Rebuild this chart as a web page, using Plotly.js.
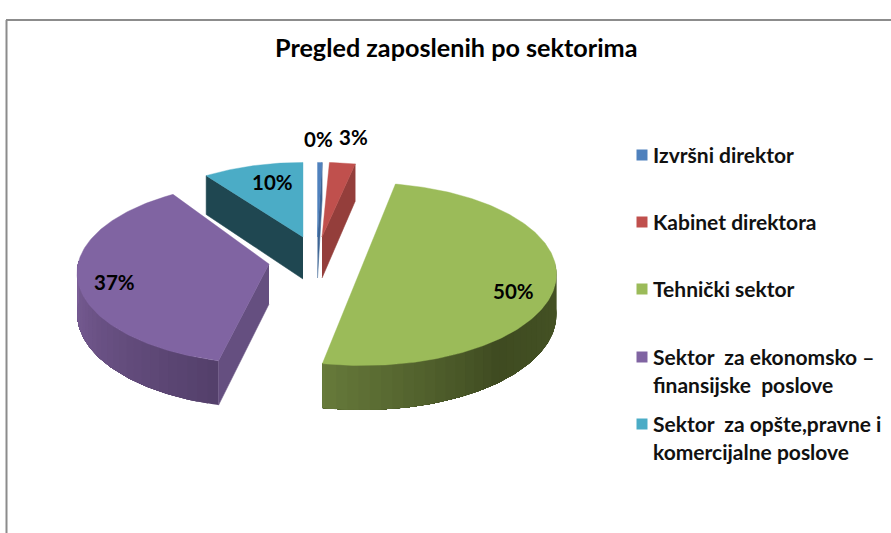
<!DOCTYPE html>
<html><head><meta charset="utf-8">
<script src="https://cdn.plot.ly/plotly-3.0.1.min.js"></script>
<style>html,body{margin:0;padding:0;background:#fff}</style></head>
<body><div id="chart" style="width:891px;height:533px"></div>
<script>
// data
const categories = ["Izvršni direktor","Kabinet direktora","Tehnički sektor","Sektor  za ekonomsko –","Sektor  za opšte,pravne i"];
const legendSecondLines = [null,null,null,"finansijske  poslove","komercijalne poslove"];
const values = [0.45,2.55,50,37,10];
const chartTitle = "Pregled zaposlenih po sektorima";
// styles
const topColors = ["#4f81bd","#c0504d","#9bbb59","#8064a2","#4bacc6"];
const faceColors = ["#3d6494","#943e3b","#4a5a2a","#654f80","#1f4751"];
// layout of the exploded 3D pie (pixel-mapped axes)
const centerX = [317.5,322,362.5,269,303];
const centerY = [237,237,265,264,237];
const radiusX = [178,178,193,191,178];
const radiusY = [82,82,90.5,90,82];
const depth = [41,41,40,40,42];
const twist = [0,1,0,3,0];
const labelX = [318,353,513,114,272];
const labelY = [139,137,291,282,182];
const legendY = [155,222,289,357,424];
const PERSP = 0.1;

function pt(i,deg,extra){
  const t=(deg)*Math.PI/180, Y=-Math.cos(t), s=1/(1-PERSP*Y);
  return [centerX[i]+radiusX[i]*s*Math.sin(t), centerY[i]+radiusY[i]*s*Y+(extra?depth[i]*s:0)];
}
function hex(c){return [1,3,5].map(k=>parseInt(c.substr(k,2),16));}
function mix(a,b,f){const A=hex(a),B=hex(b);return "rgb("+A.map((v,k)=>Math.round(v+(B[k]-v)*f)).join(",")+")";}
function wallColor(i,deg){
  if(i===2){ return deg>140 ? mix("#3f4b21","#66793a",(deg-140)/50) : mix("#465425","#3f4b21",(deg-90)/50); }
  if(i===3){ return mix("#54406b","#7b5f98",(deg-195)/75); }
  return faceColors[i];
}
const poly=(xy,color,name,lw)=>({type:"scatter",mode:"lines",x:xy.map(p=>p[0]),y:xy.map(p=>p[1]),fill:"toself",
  fillcolor:color,line:{color:color,width:lw===undefined?0.6:lw},hoverinfo:"skip",showlegend:false,name:name||""});

const total=values.reduce((a,b)=>a+b,0);
let acc=0; const starts=[],ends=[];
values.forEach((v,i)=>{starts.push(acc/total*360+twist[i]);acc+=v;ends.push(acc/total*360+twist[i]);});

const traces=[];
values.forEach((v,i)=>{
  const a=starts[i],b=ends[i];
  // curved outer wall: each shaded step runs under the next one, so no seams show
  const from=Math.max(a,88),to=Math.min(b,272);
  const steps=[];
  for(let d=from;d<to;d+=3)steps.push(d);
  steps.forEach(d=>{
    const wallPts=[];
    for(let e=d;e<to;e+=1)wallPts.push(pt(i,e));
    wallPts.push(pt(i,to));
    const back=[];
    for(let e=d;e<to;e+=1)back.push(pt(i,e,true));
    back.push(pt(i,to,true));
    traces.push(poly(wallPts.concat(back.reverse()),wallColor(i,d+1.5),"",0));
  });
  // visible flat cut
  const cut=(b>0&&b<180)?b:((a>180&&a<360)?a:null);
  if(cut!==null){
    const ap=[centerX[i],centerY[i]],apB=[centerX[i],centerY[i]+depth[i]];
    traces.push(poly([ap,pt(i,cut),pt(i,cut,true),apB],faceColors[i]));
  }
});
values.forEach((v,i)=>{
  const xy=[[centerX[i],centerY[i]]];
  for(let d=starts[i];d<ends[i];d+=1)xy.push(pt(i,d));
  xy.push(pt(i,ends[i]));xy.push([centerX[i],centerY[i]]);
  traces.push(poly(xy,topColors[i],categories[i],0.4));
});
// legend swatches
traces.push({type:"scatter",mode:"markers",x:categories.map(()=>642),y:legendY,
  marker:{symbol:"square",size:11,color:topColors},hoverinfo:"skip",showlegend:false});

const font="Lato, 'Open Sans', sans-serif";
const annotations=[];
const nb=s=>s.replace(/  /g,"\u00a0\u00a0");
values.forEach((v,i)=>{
  annotations.push({x:labelX[i],y:labelY[i],xref:"x",yref:"y",showarrow:false,text:"<b>"+Math.round(v)+"%</b>",
    font:{family:font,size:20.5,color:"#000"},xanchor:"center",yanchor:"middle"});
  annotations.push({x:651,y:legendY[i]-1,xref:"x",yref:"y",showarrow:false,text:"<b>"+nb(categories[i])+"</b>",
    font:{family:font,size:21,color:"#111"},xanchor:"left",yanchor:"middle"});
  if(legendSecondLines[i])annotations.push({x:651,y:legendY[i]+27,xref:"x",yref:"y",showarrow:false,
    text:"<b>"+nb(legendSecondLines[i])+"</b>",font:{family:font,size:21,color:"#111"},xanchor:"left",yanchor:"middle"});
});
annotations.push({x:456,y:47,xref:"x",yref:"y",showarrow:false,text:"<b>"+chartTitle+"</b>",
  font:{family:font,size:25.2,color:"#000"},xanchor:"center",yanchor:"middle"});

const frame={color:"#8c8c8c",width:2};
Plotly.newPlot("chart",traces,{
  width:891,height:533,margin:{l:0,r:0,t:0,b:0},paper_bgcolor:"#fff",plot_bgcolor:"#fff",showlegend:false,
  xaxis:{range:[0,891],visible:false,fixedrange:true},
  yaxis:{range:[533,0],visible:false,fixedrange:true},
  annotations:annotations,
  shapes:[
    {type:"line",xref:"x",yref:"y",x0:6.5,x1:6.5,y0:20,y1:533,line:frame},
    {type:"line",xref:"x",yref:"y",x0:6,x1:891,y0:20,y1:20,line:frame}
  ]
},{displayModeBar:false,staticPlot:true});
</script></body></html>
